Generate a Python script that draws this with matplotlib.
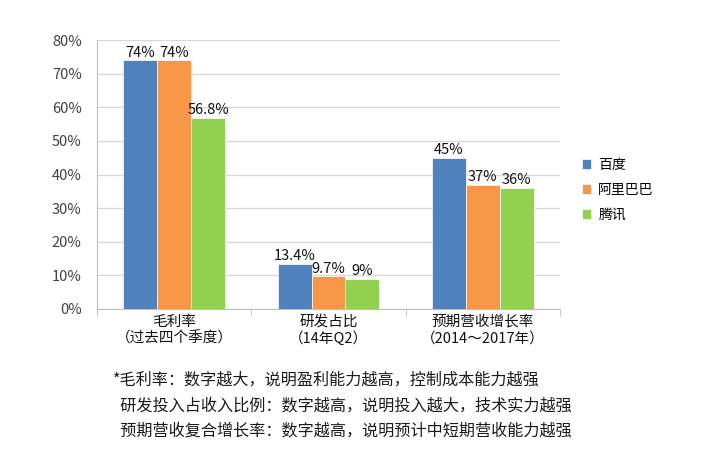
import matplotlib
matplotlib.use("Agg")
import matplotlib.pyplot as plt
import numpy as np

plt.rcParams['font.family'] = ['Noto Sans CJK SC', 'DejaVu Sans']

categories = ["毛利率\n（过去四个季度）", "研发占比\n（14年Q2）", "预期营收增长率\n（2014～2017年）"]
series_names = ["百度", "阿里巴巴", "腾讯"]
baidu = [74, 13.4, 45]
alibaba = [74, 9.7, 37]
tencent = [56.8, 9, 36]
labels_baidu = ["74%", "13.4%", "45%"]
labels_alibaba = ["74%", "9.7%", "37%"]
labels_tencent = ["56.8%", "9%", "36%"]
yticks = [0, 10, 20, 30, 40, 50, 60, 70, 80]
ytick_labels = ["0%", "10%", "20%", "30%", "40%", "50%", "60%", "70%", "80%"]
footnotes = ["*毛利率：数字越大，说明盈利能力越高，控制成本能力越强",
             "  研发投入占收入比例：数字越高，说明投入越大，技术实力越强",
             "  预期营收复合增长率：数字越高，说明预计中短期营收能力越强"]

colors = ["#4F81BD", "#F79646", "#92D050"]

fig = plt.figure(figsize=(7.01, 4.57), dpi=100)
ax = fig.add_axes([97/701, 1 - 309/457, (560-97)/701, (309-40)/457])

x = np.arange(len(categories))
w = 0.22
all_series = [baidu, alibaba, tencent]
all_labels = [labels_baidu, labels_alibaba, labels_tencent]
for i, (vals, labs) in enumerate(zip(all_series, all_labels)):
    bars = ax.bar(x + (i - 1) * w, vals, w, color=colors[i], label=series_names[i], zorder=3,
                  edgecolor='white', linewidth=0.5)
    for b, lab in zip(bars, labs):
        ax.text(b.get_x() + b.get_width() / 2, b.get_height() + 0.2, lab,
                ha='center', va='bottom', fontsize=10.5, color='#111111', fontweight='medium')

ax.set_xlim(-0.5, 2.5)
ax.set_ylim(0, 80)
ax.set_yticks(yticks)
ax.set_yticklabels(ytick_labels, fontsize=10.5, color='#404040')
ax.set_xticks(x)
ax.set_xticklabels(categories, fontsize=10.5, color='#111111', linespacing=1.25)
ax.set_xticks([-0.5, 0.5, 1.5, 2.5], minor=True)
ax.tick_params(axis='x', which='major', length=0, pad=4)
ax.tick_params(axis='x', which='minor', length=5, color='#BFBFBF', direction='out')
ax.tick_params(axis='y', length=0, pad=11)
ax.grid(axis='y', color='#D9D9D9', linewidth=1, zorder=0)
for s in ['top', 'right']:
    ax.spines[s].set_visible(False)
ax.spines['left'].set_color('#BFBFBF')
ax.spines['bottom'].set_color('#BFBFBF')

leg = fig.legend(loc='upper left', bbox_to_anchor=(569/701, 1 - 145/457), frameon=False,
                 fontsize=10, handlelength=0.7, handleheight=0.7, handletextpad=0.5,
                 labelspacing=0.8)

ys = [380, 406, 431]
for t, yy in zip(footnotes, ys):
    fig.text(113/701, 1 - yy/457, t, fontsize=11.6, color='#1a1a1a', va='center', ha='left')

fig.savefig("out.png", dpi=100, facecolor='white')
